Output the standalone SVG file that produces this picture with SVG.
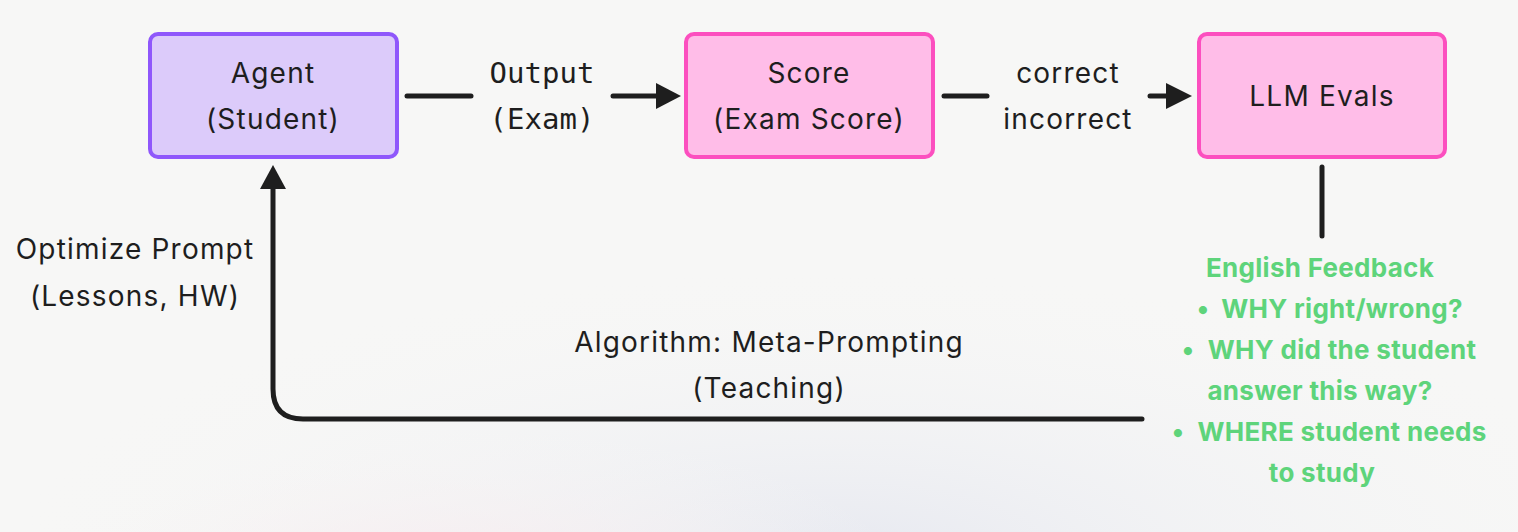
<svg xmlns="http://www.w3.org/2000/svg" width="1518" height="532" viewBox="0 0 1518 532">
<defs>
<radialGradient id="bg1" cx="0.55" cy="1.05" r="0.55">
<stop offset="0" stop-color="#e6e8f0"/>
<stop offset="1" stop-color="#f7f7f6" stop-opacity="0"/>
</radialGradient>
<radialGradient id="bg2" cx="0.3" cy="1.1" r="0.3">
<stop offset="0" stop-color="#f7eaee"/>
<stop offset="1" stop-color="#f7f7f6" stop-opacity="0"/>
</radialGradient>
</defs>
<style>
.t{font-family:Inter,"Noto Sans","Liberation Sans",sans-serif;font-size:28px;letter-spacing:1.2px;fill:#1e1e1e;text-anchor:middle}
.m{font-family:"DejaVu Sans Mono","Liberation Mono",monospace;font-size:29px;fill:#1e1e1e;text-anchor:middle}
.g{font-family:Inter,"Noto Sans","Liberation Sans",sans-serif;font-size:26px;font-weight:bold;letter-spacing:0.3px;fill:#5ed47b;text-anchor:middle}
.ln{stroke:#1e1e1e;stroke-width:5;stroke-linecap:round;fill:none}
.purple{fill:#dccbfa;stroke:#8f57fb;stroke-width:4}
.pink{fill:#ffbde8;stroke:#fc4fbf;stroke-width:4}
</style>
<rect width="1518" height="532" fill="#f7f7f6"/>
<rect width="1518" height="532" fill="url(#bg1)"/>
<rect width="1518" height="532" fill="url(#bg2)"/>

<g id="agent">
<rect class="purple" x="150" y="34" width="247" height="123" rx="8"/>
<text class="t" x="273" y="83">Agent</text>
<text class="t" x="273" y="129">(Student)</text>
</g>
<g id="score">
<rect class="pink" x="686" y="34" width="247" height="123" rx="8"/>
<text class="t" x="809" y="83">Score</text>
<text class="t" x="809" y="129">(Exam Score)</text>
</g>
<g id="llm-evals">
<rect class="pink" x="1199" y="34" width="246" height="123" rx="8"/>
<text class="t" x="1322" y="106">LLM Evals</text>
</g>

<g id="connectors">
<line class="ln" x1="407" y1="96" x2="471" y2="96"/>
<line class="ln" x1="613" y1="96" x2="660" y2="96"/>
<path d="M656,83 L681,96 L656,109 Z" fill="#1e1e1e"/>
<line class="ln" x1="944" y1="96" x2="987" y2="96"/>
<line class="ln" x1="1150" y1="96" x2="1170" y2="96"/>
<path d="M1166,83 L1192,96 L1166,109 Z" fill="#1e1e1e"/>
<line class="ln" x1="1322" y1="167" x2="1322" y2="236"/>
<path class="ln" d="M1142,419 L303,419 Q273,419 273,389 L273,186"/>
<path d="M260,189 L273,165 L286,189 Z" fill="#1e1e1e"/>
</g>

<g id="labels">
<text class="m" x="542" y="83">Output</text>
<text class="m" x="542" y="129">(Exam)</text>
<text class="t" x="1068" y="83">correct</text>
<text class="t" x="1068" y="129">incorrect</text>
<text class="t" x="135" y="259">Optimize Prompt</text>
<text class="t" x="135" y="306">(Lessons, HW)</text>
<text class="t" x="769" y="352">Algorithm: Meta-Prompting</text>
<text class="t" x="769" y="398">(Teaching)</text>
</g>

<g id="feedback">
<text class="g" x="1320" y="277">English Feedback</text>
<text class="g" x="1203" y="318">•</text>
<text class="g" x="1342" y="318">WHY right/wrong?</text>
<text class="g" x="1188" y="359">•</text>
<text class="g" x="1342" y="359">WHY did the student</text>
<text class="g" x="1320" y="400">answer this way?</text>
<text class="g" x="1178" y="441">•</text>
<text class="g" x="1342" y="441">WHERE student needs</text>
<text class="g" x="1322" y="482">to study</text>
</g>
</svg>
